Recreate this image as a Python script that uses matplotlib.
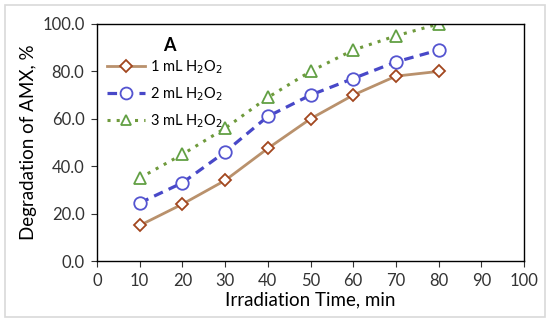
import matplotlib.pyplot as plt
from matplotlib.patches import Rectangle
from matplotlib.ticker import FormatStrFormatter

plt.rcParams['font.family'] = ['Lato', 'DejaVu Sans']

# irradiation time (min) and degradation (%) for each H2O2 dose
time = [10, 20, 30, 40, 50, 60, 70, 80]
deg_1ml = [15, 24, 34, 47.5, 60, 70, 78, 80]
deg_2ml = [24.5, 33, 46, 61, 70, 77, 84, 89]
deg_3ml = [35, 45, 56, 69, 80, 89, 95, 100]

fig = plt.figure(figsize=(5.5, 3.25), dpi=100)
ax = fig.add_axes([97 / 550, 1 - 261 / 325, 427 / 550, 237 / 325])

# light grey frame round the whole figure
fig.patches.append(Rectangle((5 / 550, 8 / 325), 540 / 550, 312 / 325,
                             transform=fig.transFigure, fill=False,
                             edgecolor='#d9d9d9', linewidth=1.2))

ax.plot(time, deg_1ml, color='#b9916c', linewidth=2, marker='D', markersize=6,
        markerfacecolor='white', markeredgecolor='#a2461e', markeredgewidth=1.3,
        label='1 mL H$_2$O$_2$')
ax.plot(time, deg_2ml, color='#4848c8', linewidth=2.3, linestyle=(0, (3, 2)),
        marker='o', markersize=9, markerfacecolor='white',
        markeredgecolor='#5454d0', markeredgewidth=1.3, label='2 mL H$_2$O$_2$')
ax.plot(time, deg_3ml, color='#6f9a3c', linewidth=2.2, linestyle=(0, (1, 2)),
        marker='^', markersize=8, markerfacecolor='white',
        markeredgecolor='#62a044', markeredgewidth=1.3, label='3 mL H$_2$O$_2$')

ax.set_xlim(0, 100)
ax.set_ylim(0, 100)
ax.set_xticks(range(0, 101, 10))
ax.set_yticks(range(0, 101, 20))
ax.yaxis.set_major_formatter(FormatStrFormatter('%.1f'))
ax.tick_params(direction='out', length=4, labelsize=12, colors='#333333')
ax.tick_params(axis='y', pad=5)
ax.tick_params(axis='x', pad=5)
for s in ax.spines.values():
    s.set_color('black')
    s.set_linewidth(1)

ax.set_xlabel('Irradiation Time, min', fontsize=13.5, labelpad=1)
ax.set_ylabel('Degradation of AMX, %', fontsize=13.5, labelpad=4)

ax.text(17, 91, 'A', fontsize=13, fontweight='bold', ha='center', va='center')
leg = ax.legend(loc='upper left', bbox_to_anchor=(0.0, 0.9), frameon=False,
                fontsize=10.5, handlelength=2.6, handletextpad=0.3,
                labelspacing=0.65, borderaxespad=0.3, markerscale=0.95)

fig.savefig('out.png', dpi=100)
